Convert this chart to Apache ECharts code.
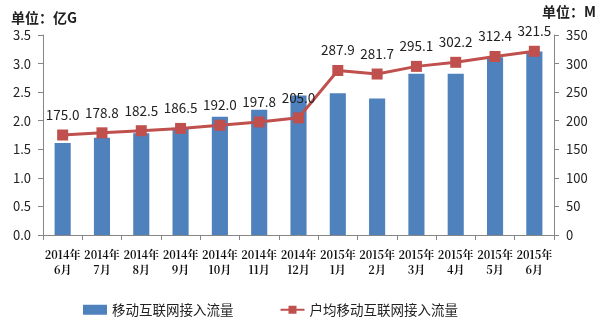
<!DOCTYPE html>
<html><head><meta charset="utf-8">
<script src="https://cdn.jsdelivr.net/npm/echarts@6/dist/echarts.min.js"></script>
<style>html,body{margin:0;padding:0;background:#fff}#c{width:600px;height:331px}</style>
</head><body><div id="c"></div>
<script>
const categories = ['2014年\n6月','2014年\n7月','2014年\n8月','2014年\n9月','2014年\n10月','2014年\n11月','2014年\n12月','2015年\n1月','2015年\n2月','2015年\n3月','2015年\n4月','2015年\n5月','2015年\n6月'];
const trafficTotal = [1.61, 1.70, 1.78, 1.86, 2.07, 2.19, 2.44, 2.48, 2.39, 2.82, 2.82, 3.11, 3.21];
const trafficPerUser = [175.0, 178.8, 182.5, 186.5, 192.0, 197.8, 205.0, 287.9, 281.7, 295.1, 302.2, 312.4, 321.5];
const seriesNames = ['移动互联网接入流量', '户均移动互联网接入流量'];
const leftUnit = '单位：亿G';
const rightUnit = '单位：M';

const font = '"Noto Sans CJK SC", "Noto Sans", sans-serif';
const chart = echarts.init(document.getElementById('c'));
chart.setOption({
  animation: false,
  textStyle: {fontFamily: font},
  grid: {left: 43, right: 46, top: 35, bottom: 96},
  legend: {
    left: 83, top: 303, padding: 0, itemWidth: 24, itemHeight: 10, itemGap: 46,
    textStyle: {fontSize: 13.5, color: '#222', fontFamily: font},
    data: [{name: seriesNames[0], icon: 'rect'}, {name: seriesNames[1]}]
  },
  graphic: [
    {type: 'text', left: 11, top: 11, style: {text: leftUnit, font: 'bold 14px ' + font, fill: '#222'}},
    {type: 'text', right: 4, top: 5, style: {text: rightUnit, font: 'bold 14px ' + font, fill: '#222'}}
  ],
  xAxis: {
    type: 'category', data: categories,
    axisLine: {lineStyle: {color: '#868686'}},
    axisTick: {show: true, alignWithLabel: false, lineStyle: {color: '#868686'}, length: 5},
    axisLabel: {interval: 0, fontSize: 11, fontWeight: 'bold', color: '#111', lineHeight: 15, margin: 12, fontFamily: '"Noto Serif CJK SC", "Noto Sans CJK SC", serif'}
  },
  yAxis: [
    {type: 'value', min: 0, max: 3.5, interval: 0.5,
     axisLine: {show: true, lineStyle: {color: '#868686'}},
     axisTick: {show: true, length: 5, lineStyle: {color: '#868686'}},
     splitLine: {show: false},
     axisLabel: {fontSize: 13, color: '#222', margin: 12, formatter: v => v.toFixed(1)}},
    {type: 'value', min: 0, max: 350, interval: 50,
     axisLine: {show: true, lineStyle: {color: '#868686'}},
     axisTick: {show: true, length: 5, lineStyle: {color: '#868686'}},
     splitLine: {show: false},
     axisLabel: {fontSize: 13, color: '#222', margin: 12}}
  ],
  series: [
    {name: seriesNames[0], type: 'bar', data: trafficTotal, barWidth: '41%', yAxisIndex: 0,
     itemStyle: {color: '#4F81BD'}},
    {name: seriesNames[1], type: 'line', data: trafficPerUser, yAxisIndex: 1,
     symbol: 'rect', symbolSize: 11,
     lineStyle: {color: '#C0504D', width: 3},
     itemStyle: {color: '#C0504D'},
     label: {show: true, position: 'top', distance: 8, fontSize: 13.5, color: '#222', formatter: p => p.value.toFixed(1)}}
  ]
});
</script></body></html>
